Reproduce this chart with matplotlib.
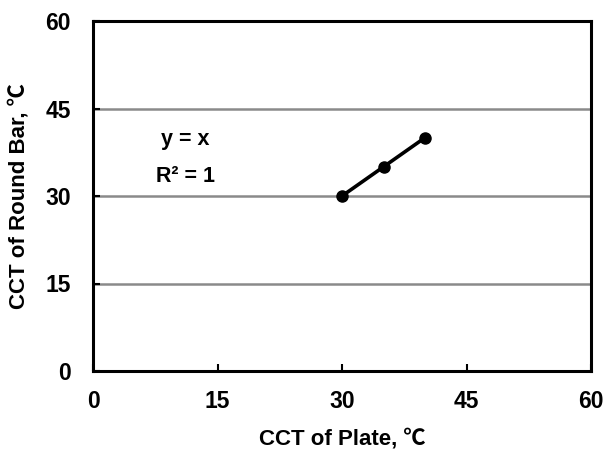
import matplotlib
matplotlib.use("Agg")
import matplotlib.pyplot as plt

plate = [30, 35, 40]
round_bar = [30, 35, 40]
ticks = [0, 15, 30, 45, 60]

plt.rcParams['font.family'] = ['Liberation Sans', 'DejaVu Sans']
plt.rcParams['font.weight'] = 'bold'

fig = plt.figure(figsize=(6.06, 4.5), dpi=100)
ax = fig.add_axes([93/606, 1-371/450, (591-93)/606, (371-21)/450])

for yv in [15, 30, 45]:
    ax.axhline(yv, color='#8a8a8a', lw=1.8, zorder=1)

ax.plot(plate, round_bar, color='black', lw=2.6, marker='o', ms=8, zorder=3)

ax.set_xlim(0, 60)
ax.set_ylim(0, 60)
ax.set_xticks(ticks)
ax.set_yticks(ticks)
ax.tick_params(direction='in', length=5, width=1.5, labelsize=16.5)
ax.tick_params(axis='x', pad=14)
ax.tick_params(axis='y', pad=16)
for lab in ax.get_xticklabels() + ax.get_yticklabels():
    lab.set_fontweight('bold')
for s in ax.spines.values():
    s.set_linewidth(2.2)

ax.text(11.1, 39.6, 'y = x', ha='center', va='center', fontsize=15.5, fontweight='bold')
ax.text(11.1, 33.3, 'R² = 1', ha='center', va='center', fontsize=15.5, fontweight='bold')

ax.set_xlabel('CCT of Plate, ℃', fontsize=16, fontweight='bold', labelpad=11,
              family=['Liberation Sans', 'Noto Sans CJK SC'])
ax.set_ylabel('CCT of Round Bar, ℃', fontsize=16, fontweight='bold', labelpad=11,
              family=['Liberation Sans', 'Noto Sans CJK SC'])

fig.savefig('out.png', dpi=100)
